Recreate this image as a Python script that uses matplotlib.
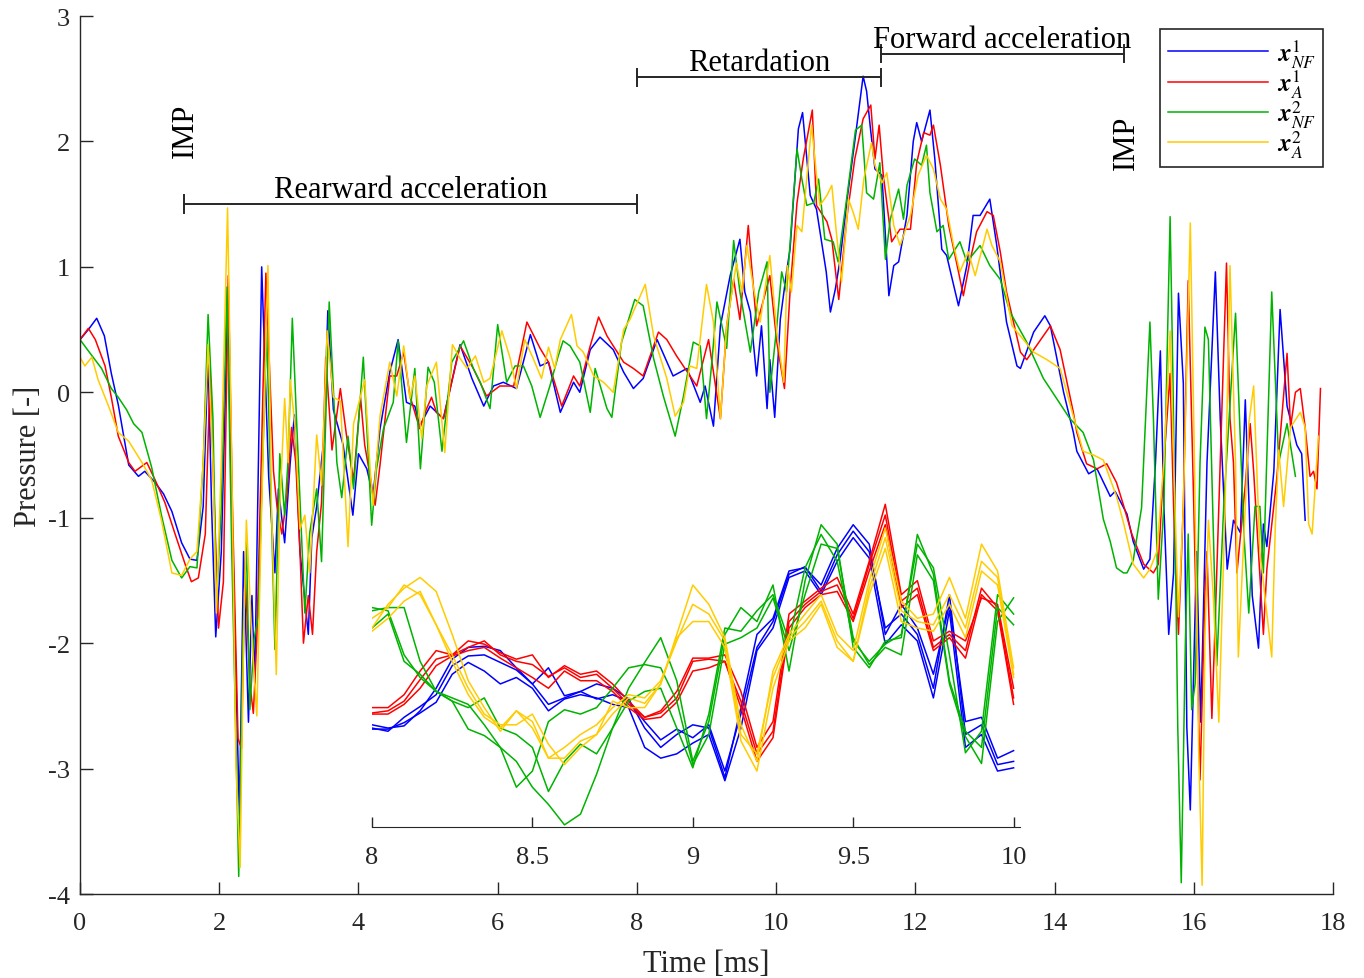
"""Pressure traces of the four cases, with a zoom on 8-10 ms."""

import matplotlib
matplotlib.use("Agg")
import matplotlib.pyplot as plt
import numpy as np

# main traces, (time [ms], pressure [-]) read at the peaks and troughs
x1_nf = [
    (0.00, 0.42), (0.12, 0.50), (0.24, 0.59), (0.35, 0.45), (0.45, 0.15), (0.55, -0.10),
    (0.65, -0.42), (0.70, -0.58), (0.84, -0.67), (0.93, -0.63), (1.08, -0.72), (1.20, -0.81),
    (1.32, -0.95), (1.46, -1.20), (1.58, -1.33), (1.68, -1.34), (1.77, -0.91), (1.84, 0.30),
    (1.89, -0.91), (1.95, -1.95), (2.03, -1.27), (2.12, 0.66), (2.18, -0.91), (2.29, -3.37),
    (2.35, -1.27), (2.42, -2.63), (2.47, -1.62), (2.51, -2.32), (2.61, 1.00), (2.71, -0.67),
    (2.80, -1.44), (2.85, -0.77), (2.94, -1.20), (3.02, -0.56), (3.08, -0.18), (3.16, -1.27),
    (3.28, -1.93), (3.33, -1.16), (3.40, -0.91), (3.50, -0.39), (3.56, 0.65), (3.64, -0.14),
    (3.78, -0.42), (3.92, -0.98), (4.00, -0.49), (4.12, -0.61), (4.21, -0.82), (4.31, -0.29),
    (4.45, 0.16), (4.57, 0.42), (4.69, -0.08), (4.81, -0.11), (4.88, -0.27), (5.03, -0.11),
    (5.22, -0.21), (5.46, 0.38), (5.63, 0.11), (5.80, -0.11), (5.94, 0.05), (6.08, 0.08),
    (6.27, 0.03), (6.47, 0.46), (6.61, 0.21), (6.73, 0.24), (6.90, -0.16), (7.09, 0.08),
    (7.18, 0.00), (7.33, 0.34), (7.47, 0.44), (7.66, 0.34), (7.81, 0.16), (7.95, 0.03),
    (8.09, 0.11), (8.29, 0.42), (8.52, 0.13), (8.72, 0.19), (8.91, -0.08), (8.98, 0.05),
    (9.10, -0.27), (9.20, 0.53), (9.34, 0.93), (9.48, 1.22), (9.55, 0.80), (9.63, 0.64),
    (9.72, 0.13), (9.79, 0.53), (9.87, -0.13), (9.91, 0.26), (9.98, -0.20), (10.06, 0.58),
    (10.15, 0.96), (10.20, 1.14), (10.32, 2.10), (10.38, 2.23), (10.49, 1.57), (10.58, 1.46),
    (10.72, 0.96), (10.78, 0.64), (10.85, 0.82), (10.92, 1.06), (11.02, 1.54), (11.13, 2.00),
    (11.25, 2.52), (11.30, 2.40), (11.35, 2.13), (11.42, 1.78), (11.52, 1.73), (11.62, 0.77),
    (11.69, 1.01), (11.76, 1.04), (11.88, 1.41), (11.97, 2.00), (12.02, 2.15), (12.09, 2.00),
    (12.21, 2.25), (12.28, 1.86), (12.38, 1.14), (12.45, 1.09), (12.62, 0.69), (12.74, 1.01),
    (12.83, 1.41), (12.93, 1.41), (13.07, 1.54), (13.17, 1.17), (13.31, 0.56), (13.46, 0.21),
    (13.51, 0.19), (13.70, 0.48), (13.86, 0.61), (13.94, 0.53), (14.13, 0.00), (14.27, -0.32),
    (14.32, -0.47), (14.49, -0.65), (14.61, -0.61), (14.80, -0.83), (14.87, -0.79), (15.04, -0.97),
    (15.13, -1.19), (15.28, -1.41), (15.37, -1.33), (15.45, -0.56), (15.52, 0.33), (15.57, -0.91),
    (15.64, -1.93), (15.71, -1.44), (15.78, 0.79), (15.85, 0.07), (15.90, -2.67), (15.95, -3.33),
    (16.04, -1.27), (16.10, -2.63), (16.19, -0.56), (16.31, 0.96), (16.38, -0.21), (16.48, -1.41),
    (16.57, -1.02), (16.67, -1.12), (16.74, -0.06), (16.84, -1.62), (16.93, -2.04), (17.00, -1.05),
    (17.05, -1.23), (17.15, -0.63), (17.24, 0.66), (17.34, -0.11), (17.48, -0.42), (17.55, -0.49),
    (17.60, -1.02),
]

x1_a = [
    (0.00, 0.42), (0.12, 0.51), (0.22, 0.42), (0.36, 0.21), (0.45, -0.04), (0.55, -0.35),
    (0.70, -0.56), (0.79, -0.63), (0.96, -0.56), (1.08, -0.70), (1.22, -0.88), (1.36, -1.12),
    (1.51, -1.37), (1.60, -1.51), (1.70, -1.48), (1.80, -1.13), (1.87, 0.17), (1.92, -0.74),
    (1.99, -1.88), (2.06, -1.51), (2.13, 0.93), (2.19, -0.91), (2.27, -2.76), (2.32, -2.84),
    (2.37, -1.41), (2.44, -2.32), (2.49, -2.56), (2.54, -1.97), (2.67, 0.95), (2.78, -0.63),
    (2.83, -0.91), (2.90, -1.13), (2.97, -0.84), (3.04, -0.28), (3.10, -0.56), (3.16, -1.27),
    (3.21, -2.00), (3.28, -1.62), (3.34, -1.93), (3.40, -1.27), (3.47, -0.88), (3.53, 0.28),
    (3.62, -0.46), (3.74, 0.03), (3.83, -0.35), (3.93, -0.70), (4.03, -0.04), (4.09, -0.42),
    (4.24, -0.90), (4.31, -0.58), (4.45, 0.13), (4.55, 0.13), (4.65, 0.32), (4.74, -0.03),
    (4.88, -0.29), (4.98, -0.13), (5.05, -0.04), (5.12, -0.16), (5.22, -0.21), (5.46, 0.37),
    (5.65, 0.19), (5.84, -0.03), (6.03, 0.05), (6.23, 0.05), (6.42, 0.56), (6.61, 0.35),
    (6.73, 0.24), (6.92, -0.11), (7.09, 0.13), (7.18, 0.05), (7.33, 0.37), (7.45, 0.60),
    (7.57, 0.45), (7.66, 0.37), (7.81, 0.24), (7.95, 0.19), (8.09, 0.13), (8.31, 0.48),
    (8.43, 0.42), (8.57, 0.29), (8.86, 0.05), (8.91, 0.16), (9.03, 0.42), (9.20, -0.21),
    (9.29, 0.53), (9.39, 0.90), (9.48, 0.58), (9.60, 1.33), (9.72, 0.53), (9.82, 0.74),
    (9.91, 0.93), (10.01, 0.40), (10.12, 0.03), (10.20, 0.80), (10.30, 1.51), (10.39, 1.86),
    (10.52, 2.25), (10.58, 1.49), (10.73, 1.36), (10.80, 1.22), (10.90, 0.74), (11.02, 1.41),
    (11.13, 1.86), (11.25, 2.18), (11.36, 2.29), (11.42, 1.86), (11.48, 2.13), (11.54, 1.73),
    (11.66, 1.20), (11.78, 1.30), (11.93, 1.30), (12.02, 1.83), (12.12, 2.07), (12.21, 2.05),
    (12.26, 2.13), (12.36, 1.81), (12.48, 1.33), (12.62, 0.96), (12.69, 0.77), (12.79, 1.06),
    (12.88, 1.28), (13.03, 1.44), (13.12, 1.41), (13.22, 1.12), (13.31, 0.80), (13.51, 0.32),
    (13.60, 0.26), (13.84, 0.45), (13.94, 0.53), (14.08, 0.34), (14.27, -0.16), (14.32, -0.32),
    (14.46, -0.57), (14.61, -0.61), (14.75, -0.57), (14.89, -0.72), (14.99, -0.90), (15.11, -1.13),
    (15.28, -1.37), (15.42, -1.44), (15.49, -1.37), (15.57, -0.56), (15.66, 0.15), (15.71, -0.91),
    (15.78, -1.93), (15.85, -0.91), (15.92, 0.89), (16.00, -0.91), (16.09, -3.09), (16.16, -1.62),
    (16.19, -1.27), (16.26, -2.60), (16.31, -1.79), (16.47, 1.03), (16.52, -0.21), (16.57, -0.56),
    (16.62, -1.44), (16.74, -0.74), (16.81, -0.25), (16.86, -0.63), (17.00, -1.93), (17.05, -1.41),
    (17.19, -0.70), (17.34, 0.31), (17.39, -0.28), (17.46, 0.00), (17.53, 0.03), (17.60, -0.28),
    (17.67, -0.67), (17.72, -0.63), (17.77, -0.77), (17.82, 0.03),
]

x2_nf = [
    (0.00, 0.42), (0.12, 0.33), (0.31, 0.19), (0.45, 0.03), (0.55, -0.04), (0.67, -0.14),
    (0.77, -0.25), (0.89, -0.32), (1.03, -0.60), (1.17, -0.98), (1.32, -1.34), (1.46, -1.48),
    (1.58, -1.39), (1.68, -1.40), (1.77, -0.56), (1.84, 0.62), (1.91, -0.21), (1.96, -1.69),
    (2.03, -0.91), (2.11, 0.84), (2.18, -1.27), (2.25, -3.02), (2.28, -3.86), (2.34, -1.97),
    (2.39, -1.19), (2.44, -2.53), (2.50, -1.97), (2.56, -1.79), (2.68, 0.52), (2.73, -0.56),
    (2.80, -2.05), (2.87, -0.49), (2.94, -0.98), (2.99, -0.53), (3.05, 0.59), (3.11, -0.21),
    (3.23, -1.76), (3.30, -1.12), (3.40, -0.77), (3.47, -1.35), (3.58, 0.72), (3.69, -0.56),
    (3.76, -0.84), (3.85, -0.35), (3.93, -0.77), (4.07, 0.28), (4.19, -1.06), (4.26, -0.61),
    (4.36, -0.29), (4.50, -0.08), (4.57, 0.41), (4.69, -0.40), (4.81, 0.19), (4.89, -0.61),
    (5.00, 0.20), (5.09, 0.08), (5.20, -0.47), (5.34, 0.24), (5.51, 0.41), (5.65, 0.19),
    (5.75, 0.08), (5.89, -0.13), (6.00, 0.54), (6.13, 0.08), (6.25, 0.21), (6.37, 0.21),
    (6.49, 0.05), (6.61, -0.20), (6.75, 0.05), (6.87, 0.29), (6.94, 0.41), (7.04, 0.37),
    (7.18, 0.24), (7.33, -0.16), (7.40, 0.19), (7.57, -0.13), (7.64, -0.20), (7.78, 0.40),
    (7.97, 0.74), (8.09, 0.69), (8.24, 0.27), (8.38, -0.03), (8.55, -0.35), (8.67, -0.03),
    (8.81, 0.40), (8.91, 0.37), (9.00, -0.21), (9.08, 0.26), (9.15, 0.72), (9.29, 0.35),
    (9.39, 1.21), (9.48, 0.80), (9.63, 0.32), (9.75, 0.80), (9.87, 1.04), (9.91, 0.00),
    (10.01, 0.53), (10.08, 0.96), (10.15, 0.80), (10.22, 1.33), (10.30, 1.94), (10.37, 1.70),
    (10.44, 1.49), (10.54, 1.51), (10.61, 1.70), (10.70, 1.22), (10.82, 1.20), (10.89, 1.04),
    (11.02, 1.57), (11.14, 2.09), (11.23, 2.13), (11.30, 1.59), (11.40, 1.54), (11.49, 1.83),
    (11.57, 1.06), (11.64, 1.38), (11.76, 1.62), (11.83, 1.38), (11.88, 1.65), (11.99, 1.86),
    (12.09, 1.81), (12.16, 1.97), (12.21, 1.59), (12.31, 1.28), (12.40, 1.33), (12.48, 1.06),
    (12.64, 1.20), (12.74, 1.04), (12.93, 1.17), (13.07, 1.01), (13.22, 0.90), (13.36, 0.64),
    (13.60, 0.40), (13.84, 0.11), (14.03, -0.05), (14.22, -0.21), (14.41, -0.32), (14.56, -0.54),
    (14.70, -1.01), (14.80, -1.19), (14.89, -1.40), (14.99, -1.44), (15.04, -1.44), (15.13, -1.34),
    (15.25, -0.92), (15.37, 0.56), (15.42, -0.21), (15.49, -1.65), (15.57, -0.91), (15.66, 1.40),
    (15.70, 0.14), (15.77, -2.67), (15.82, -3.91), (15.88, -1.97), (15.92, -1.13), (15.97, -2.53),
    (16.02, -2.32), (16.09, -0.56), (16.16, 0.52), (16.21, 0.42), (16.33, -2.18), (16.43, -0.91),
    (16.60, 0.63), (16.72, -1.13), (16.79, -1.76), (16.88, -0.91), (16.95, -0.91), (17.00, -1.44),
    (17.12, 0.80), (17.22, -0.56), (17.34, -0.25), (17.46, -0.67),
]

x2_a = [
    (0.00, 0.28), (0.07, 0.21), (0.17, 0.28), (0.26, 0.10), (0.41, -0.11), (0.55, -0.32),
    (0.70, -0.39), (0.89, -0.56), (1.03, -0.70), (1.17, -1.02), (1.32, -1.44), (1.46, -1.46),
    (1.58, -1.33), (1.68, -1.27), (1.77, -0.56), (1.84, 0.38), (1.91, -0.56), (1.96, -1.76),
    (2.03, -0.56), (2.12, 1.47), (2.18, -0.56), (2.24, -2.98), (2.30, -3.79), (2.35, -1.97),
    (2.39, -1.02), (2.47, -1.97), (2.54, -2.58), (2.61, -0.91), (2.70, 1.01), (2.75, -0.91),
    (2.82, -2.25), (2.87, -0.91), (2.94, -0.05), (2.99, -0.56), (3.02, 0.10), (3.09, -0.28),
    (3.16, -1.09), (3.23, -0.98), (3.30, -1.44), (3.40, -0.34), (3.47, -0.74), (3.55, 0.49),
    (3.64, -0.04), (3.74, -0.07), (3.85, -1.23), (3.93, -0.25), (4.09, 0.10), (4.17, -0.63),
    (4.21, -0.90), (4.31, -0.19), (4.45, 0.24), (4.55, -0.03), (4.65, 0.37), (4.74, -0.05),
    (4.81, 0.13), (4.91, -0.37), (4.98, 0.05), (5.12, 0.24), (5.24, -0.48), (5.35, 0.38),
    (5.46, 0.27), (5.56, 0.19), (5.68, 0.29), (5.80, 0.08), (5.89, 0.11), (6.06, 0.49),
    (6.18, 0.27), (6.27, 0.03), (6.39, 0.42), (6.51, 0.27), (6.63, 0.11), (6.73, 0.36),
    (6.82, 0.19), (6.90, 0.42), (7.06, 0.62), (7.14, 0.37), (7.23, 0.32), (7.38, 0.13),
    (7.52, 0.08), (7.66, 0.00), (7.81, 0.50), (7.90, 0.58), (8.12, 0.86), (8.24, 0.45),
    (8.43, 0.11), (8.55, -0.19), (8.67, -0.08), (8.76, 0.21), (8.86, 0.19), (9.00, 0.86),
    (9.10, 0.56), (9.20, -0.21), (9.29, 0.53), (9.43, 1.03), (9.51, 0.80), (9.58, 1.17),
    (9.67, 0.85), (9.77, 0.56), (9.91, 1.09), (10.01, 0.48), (10.11, 0.08), (10.16, 1.01),
    (10.22, 0.80), (10.30, 1.33), (10.37, 1.28), (10.51, 2.13), (10.58, 1.73), (10.63, 1.49),
    (10.73, 1.57), (10.80, 1.65), (10.87, 1.25), (10.94, 0.88), (11.04, 1.54), (11.11, 1.43),
    (11.18, 1.30), (11.26, 1.70), (11.37, 1.99), (11.42, 1.81), (11.52, 1.67), (11.59, 1.75),
    (11.69, 1.33), (11.78, 1.17), (11.93, 1.41), (12.04, 1.73), (12.16, 1.89), (12.26, 1.78),
    (12.36, 1.54), (12.45, 1.46), (12.55, 1.17), (12.64, 0.96), (12.76, 1.12), (12.86, 0.93),
    (13.03, 1.30), (13.10, 1.17), (13.22, 1.04), (13.39, 0.53), (13.70, 0.32), (13.89, 0.26),
    (14.08, 0.19), (14.27, -0.19), (14.41, -0.47), (14.56, -0.50), (14.70, -0.54), (14.89, -0.83),
    (14.99, -1.04), (15.13, -1.37), (15.28, -1.48), (15.37, -1.41), (15.47, -1.27), (15.57, -0.56),
    (15.66, 0.49), (15.73, -0.91), (15.78, -1.79), (15.85, -0.91), (15.95, 1.35), (16.01, -0.56),
    (16.07, -2.84), (16.12, -3.93), (16.16, -1.97), (16.21, -1.02), (16.28, -1.62), (16.36, -2.63),
    (16.45, -0.91), (16.52, 1.01), (16.60, -0.56), (16.64, -2.11), (16.74, -0.91), (16.79, -0.25),
    (16.86, 0.05), (16.95, -1.27), (17.12, -2.11), (17.17, -1.09), (17.22, -0.46), (17.29, -0.91),
    (17.39, -0.28), (17.53, -0.16), (17.60, -0.28), (17.65, -1.05), (17.70, -1.13), (17.79, -0.35),
]

# zoom 8-10 ms: three realisations per case, sampled every 0.05 ms
zoom_time = np.linspace(8.0, 10.0, 41)
zoom_x1_nf = [
    [0.51, 0.48, 0.50, 0.64, 0.85, 1.12, 1.23, 1.24, 1.20, 1.04, 0.89, 1.04, 0.78, 0.82, 0.89,
     0.85, 0.75, 0.48, 0.30, 0.42, 0.51, 0.48, 0.02, 0.67, 1.35, 1.50, 1.94, 1.97, 1.81, 2.15,
     2.37, 2.19, 1.35, 1.63, 1.41, 0.98, 1.63, 0.54, 0.58, 0.20, 0.27],
    [0.48, 0.45, 0.58, 0.68, 0.79, 1.06, 1.15, 1.16, 1.09, 1.02, 0.89, 0.70, 0.76, 0.82, 0.75,
     0.79, 0.73, 0.54, 0.37, 0.47, 0.39, 0.51, 0.08, 0.61, 1.23, 1.47, 1.91, 1.98, 1.75, 2.09,
     2.31, 2.12, 1.41, 1.54, 1.35, 0.85, 1.72, 0.42, 0.51, 0.14, 0.17],
    [0.47, 0.47, 0.53, 0.62, 0.72, 0.98, 1.09, 1.01, 0.89, 0.95, 0.85, 0.64, 0.75, 0.79, 0.76,
     0.70, 0.67, 0.30, 0.20, 0.24, 0.34, 0.42, -0.01, 0.48, 1.20, 1.41, 1.88, 1.94, 1.72, 2.03,
     2.25, 2.06, 1.26, 1.44, 1.29, 0.76, 1.57, 0.30, 0.42, 0.08, 0.11],
]
zoom_x1_a = [
    [0.67, 0.67, 0.79, 1.01, 1.20, 1.16, 1.29, 1.26, 1.18, 1.12, 1.16, 0.95, 1.06, 0.98, 1.01,
     0.89, 0.73, 0.58, 0.64, 0.82, 1.13, 1.13, 1.16, 0.82, 0.30, 0.54, 1.54, 1.66, 1.78, 1.88,
     1.54, 2.03, 2.56, 1.72, 1.85, 1.29, 1.38, 1.29, 1.69, 1.63, 0.85],
    [0.62, 0.64, 0.73, 0.93, 1.12, 1.16, 1.23, 1.29, 1.16, 1.10, 1.07, 0.96, 1.04, 0.95, 0.98,
     0.85, 0.70, 0.58, 0.62, 0.76, 1.10, 1.12, 1.10, 0.73, 0.24, 0.45, 1.47, 1.63, 1.75, 1.81,
     1.50, 2.00, 2.46, 1.66, 1.78, 1.23, 1.35, 1.20, 1.78, 1.60, 0.76],
    [0.61, 0.61, 0.70, 0.85, 1.06, 1.15, 1.20, 1.23, 1.13, 1.04, 0.95, 0.85, 1.01, 0.92, 0.92,
     0.82, 0.67, 0.56, 0.58, 0.72, 1.01, 1.04, 1.10, 0.67, 0.17, 0.39, 1.41, 1.60, 1.72, 1.75,
     1.47, 1.94, 2.37, 1.60, 1.72, 1.20, 1.32, 1.13, 1.72, 1.57, 0.70],
]
zoom_x2_nf = [
    [1.41, 1.54, 1.10, 0.98, 0.82, 0.76, 0.70, 0.51, 0.30, 0.17, -0.07, -0.23, -0.42, -0.32, 0.05,
     0.48, 0.85, 1.09, 1.32, 0.92, 0.17, 0.54, 1.35, 1.60, 1.47, 1.81, 1.01, 1.85, 2.37, 2.19,
     1.23, 1.04, 1.29, 1.32, 2.28, 1.91, 0.92, 0.45, 0.30, 1.60, 1.44],
    [1.60, 1.57, 1.16, 0.95, 0.82, 0.73, 0.47, 0.41, 0.30, -0.07, 0.08, 0.54, 0.65, 0.61, 0.67,
     0.85, 1.04, 1.07, 1.04, 0.73, 0.14, 0.42, 1.26, 1.32, 1.41, 1.69, 1.20, 1.72, 2.19, 2.15,
     1.32, 1.07, 1.23, 1.16, 2.09, 1.85, 0.89, 0.40, 0.15, 1.47, 1.69],
    [1.57, 1.60, 1.60, 1.10, 0.82, 0.73, 0.67, 0.76, 0.48, 0.42, 0.30, -0.11, 0.17, 0.33, 0.24,
     0.48, 0.73, 0.82, 0.85, 0.48, 0.11, 0.61, 1.41, 1.38, 1.57, 1.72, 1.29, 1.97, 2.28, 2.03,
     1.29, 1.10, 1.26, 1.35, 2.19, 1.97, 1.16, 0.25, 0.45, 1.72, 1.54],
]
zoom_x2_a = [
    [1.41, 1.63, 1.78, 1.88, 1.75, 1.35, 0.92, 0.67, 0.45, 0.64, 0.54, 0.20, 0.20, 0.36, 0.42,
     0.61, 0.76, 0.71, 0.89, 1.35, 1.81, 1.63, 1.32, 0.51, 0.17, 1.01, 1.35, 1.54, 1.72, 1.35,
     1.20, 1.85, 2.34, 1.66, 1.50, 1.54, 1.88, 1.50, 2.19, 1.94, 1.04],
    [1.50, 1.60, 1.81, 1.72, 1.44, 1.10, 0.79, 0.58, 0.48, 0.64, 0.48, 0.20, 0.30, 0.42, 0.51,
     0.67, 0.79, 0.76, 0.92, 1.29, 1.63, 1.54, 1.29, 0.42, 0.24, 0.95, 1.32, 1.47, 1.66, 1.29,
     1.10, 1.78, 2.25, 1.57, 1.47, 1.44, 1.72, 1.41, 2.03, 1.88, 0.98],
    [1.38, 1.50, 1.66, 1.75, 1.44, 1.16, 0.85, 0.61, 0.51, 0.51, 0.61, 0.33, 0.14, 0.30, 0.42,
     0.73, 0.67, 0.67, 0.89, 1.32, 1.47, 1.47, 1.23, 0.36, 0.08, 0.85, 1.29, 1.41, 1.63, 1.23,
     1.10, 1.72, 2.15, 1.47, 1.41, 1.38, 1.63, 1.32, 1.94, 1.81, 0.95],
]

labels = [r"$\mathbf{x}^{1}_{NF}$", r"$\mathbf{x}^{1}_{A}$",
          r"$\mathbf{x}^{2}_{NF}$", r"$\mathbf{x}^{2}_{A}$"]
colours = ["#0000ff", "#ff0000", "#00b300", "#ffcc00"]

# phases marked above the traces: (start, end, bar height, label)
phases = [
    (1.5, 8.0, 1.50, "Rearward acceleration"),
    (8.0, 11.5, 2.51, "Retardation"),
    (11.5, 15.0, 2.70, "Forward acceleration"),
]
impacts = [(1.51, 2.09), (15.03, 2.00)]

INK = "#262626"

plt.rcParams["font.family"] = ["Liberation Serif", "DejaVu Serif"]
plt.rcParams["mathtext.fontset"] = "custom"
plt.rcParams["mathtext.rm"] = "STIXGeneral"
plt.rcParams["mathtext.it"] = "STIXGeneral:italic"
plt.rcParams["mathtext.bf"] = "STIXGeneral:italic:bold"
plt.rcParams["axes.unicode_minus"] = False

fig = plt.figure(figsize=(13.64, 9.79), dpi=100)
ax = fig.add_axes([80 / 1364, 1 - 895 / 979, 1253 / 1364, 878 / 979])

for trace, colour, label in zip([x1_nf, x1_a, x2_nf, x2_a], colours, labels):
    t, p = np.array(trace).T
    ax.plot(t, p, color=colour, lw=1.1, label=label)

ax.set_xlim(0, 18)
ax.set_ylim(-4, 3)
ax.set_xticks(range(0, 19, 2))
ax.set_yticks(range(-4, 4))
for side in ["top", "right"]:
    ax.spines[side].set_visible(False)
for side in ["left", "bottom"]:
    ax.spines[side].set_color(INK)
    ax.spines[side].set_linewidth(1.0)
ax.tick_params(direction="in", length=9, width=1.0, labelsize=19, colors=INK)
ax.tick_params(axis="x", pad=13)
ax.tick_params(axis="y", pad=7)
ax.set_xlabel("Time [ms]", fontsize=22, color=INK, labelpad=11)
ax.set_ylabel("Pressure [-]", fontsize=22, color=INK, labelpad=4)

for x0, x1, y, text in phases:
    ax.plot([x0, x1], [y, y], color=INK, lw=1.4)
    ax.plot([x0, x0], [y - 0.07, y + 0.07], color=INK, lw=1.4)
    ax.plot([x1, x1], [y - 0.07, y + 0.07], color=INK, lw=1.4)
    ax.text((x0 + x1) / 2, y, text, ha="center", va="bottom", fontsize=22)

for x, y in impacts:
    ax.text(x, y, "IMP", rotation=90, ha="center", va="center", fontsize=22)

leg = ax.legend(loc="upper right", bbox_to_anchor=(0.992, 0.985), fontsize=18,
                fancybox=False, edgecolor=INK, framealpha=1, handlelength=4.0,
                handletextpad=0.35, labelspacing=-0.05, borderpad=0.3, borderaxespad=0)
leg.get_frame().set_linewidth(1.2)

# zoomed inset without y axis
ins = fig.add_axes([372 / 1364, 1 - 828 / 979, 648 / 1364, 327 / 979])
ins.set_facecolor("none")
for runs, colour in zip([zoom_x1_nf, zoom_x1_a, zoom_x2_nf, zoom_x2_a], colours):
    for run in runs:
        ins.plot(zoom_time, run, color=colour, lw=1.1)
ins.set_xlim(8, 10.02)
ins.set_ylim(-0.44, 2.6)
ins.set_yticks([])
ins.set_xticks([8, 8.5, 9, 9.5, 10])
ins.set_xticklabels(["8", "8.5", "9", "9.5", "10"])
for side in ["top", "right", "left"]:
    ins.spines[side].set_visible(False)
ins.spines["bottom"].set_color(INK)
ins.tick_params(direction="in", length=7, width=1.0, labelsize=19, colors=INK, pad=14)

fig.savefig("out.png", dpi=100)
